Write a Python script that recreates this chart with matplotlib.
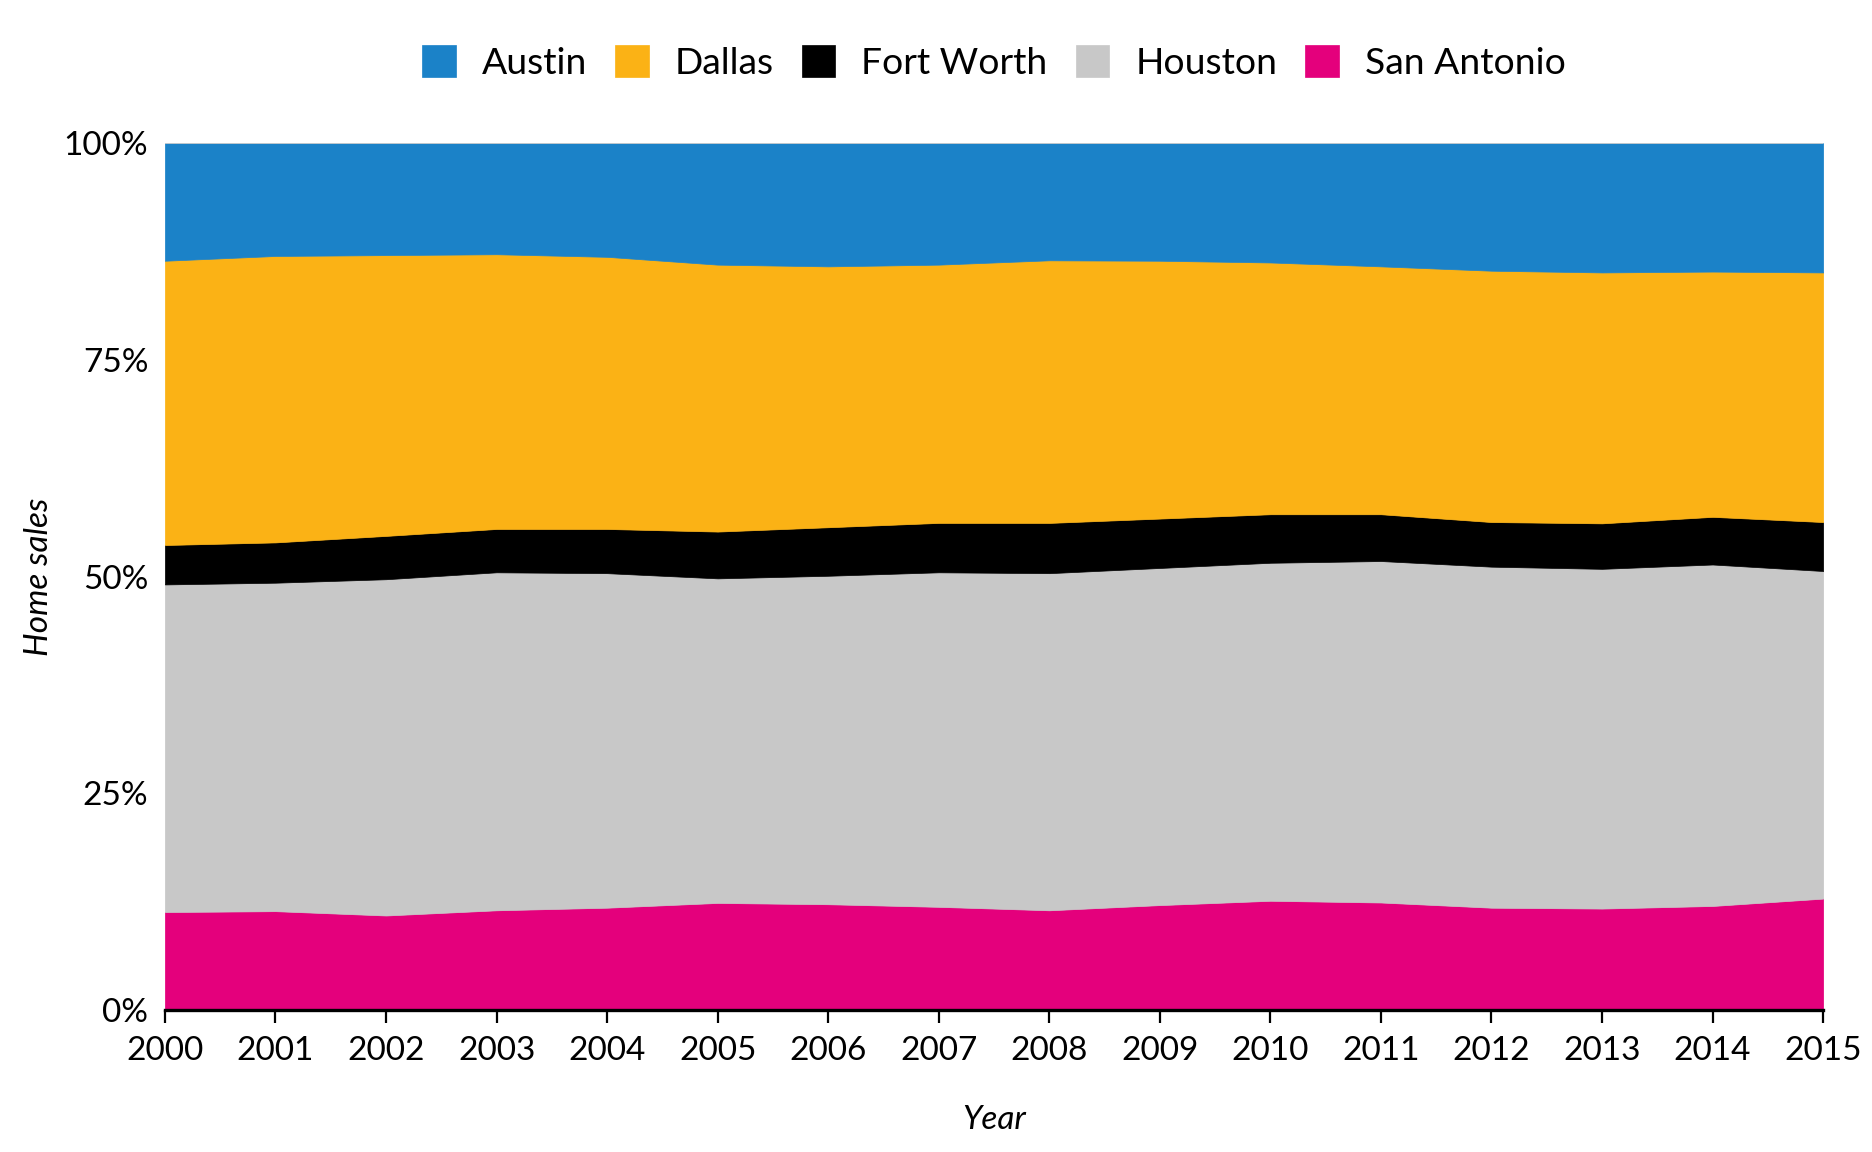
import numpy as np
import matplotlib
matplotlib.use("Agg")
import matplotlib.pyplot as plt
from matplotlib.ticker import FuncFormatter

## Data (share of home sales, percent)
years = list(range(2000, 2016))
san_antonio = [11.3, 11.4, 10.9, 11.5, 11.8, 12.35, 12.2, 11.9, 11.5, 12.1, 12.6, 12.4, 11.8, 11.7, 12.0, 12.85]
houston = [37.8, 37.9, 38.8, 39.0, 38.6, 37.45, 37.9, 38.6, 38.9, 38.9, 39.0, 39.4, 39.35, 39.2, 39.4, 37.8]
fort_worth = [4.55, 4.65, 5.0, 5.0, 5.1, 5.4, 5.6, 5.7, 5.8, 5.7, 5.6, 5.4, 5.15, 5.25, 5.5, 5.65]
dallas = [32.8, 33.05, 32.4, 31.7, 31.4, 30.8, 30.1, 29.8, 30.3, 29.75, 29.05, 28.6, 29.0, 28.95, 28.3, 28.8]
austin = [13.55, 13.0, 12.9, 12.8, 13.1, 14.0, 14.2, 14.0, 13.5, 13.55, 13.75, 14.2, 14.7, 14.9, 14.8, 14.9]

# stacking order, bottom to top
series = [san_antonio, houston, fort_worth, dallas, austin]
labels = ['San Antonio', 'Houston', 'Fort Worth', 'Dallas', 'Austin']
colors = ['#e4007c', '#c8c8c8', '#000000', '#fbb215', '#1b82c8']

plt.rcParams['font.family'] = ['Lato', 'DejaVu Sans']

fig = plt.figure(figsize=(18.72, 11.52), dpi=100)
ax = fig.add_axes([0.0881, 0.1233, 0.8858, 0.7523])

polys = ax.stackplot(years, *series, colors=colors, labels=labels, linewidth=0.5)
for p, c in zip(polys, colors):
    p.set_edgecolor(c)

# thin grey line at the top
ax.axhline(100, color='#cccccc', linewidth=1.2, zorder=3)

ax.set_xlim(2000, 2015)
ax.set_ylim(0, 100)
ax.set_xticks(years)
ax.set_yticks([0, 25, 50, 75, 100])
ax.yaxis.set_major_formatter(FuncFormatter(lambda v, _: f'{int(v)}%'))

for s in ['top', 'right', 'left']:
    ax.spines[s].set_visible(False)
ax.spines['bottom'].set_linewidth(2.4)
ax.spines['bottom'].set_zorder(5)

ax.tick_params(axis='x', length=9.5, width=1.6, pad=9, labelsize=24, color='black')
ax.tick_params(axis='y', length=0, pad=12, labelsize=24)

ax.set_xlabel('Year', fontsize=24, style='italic', labelpad=28)
ax.set_ylabel('Home sales', fontsize=24, style='italic', labelpad=7)

# Legend in reverse stacking order
handles, labs = ax.get_legend_handles_labels()
leg = fig.legend(handles[::-1], labs[::-1], loc='center', bbox_to_anchor=(0.531, 0.946),
                 ncol=5, frameon=False, fontsize=26.8, handlelength=0.9, handleheight=0.95,
                 handletextpad=0.7, columnspacing=0.75)

fig.savefig('out.png', dpi=100)
